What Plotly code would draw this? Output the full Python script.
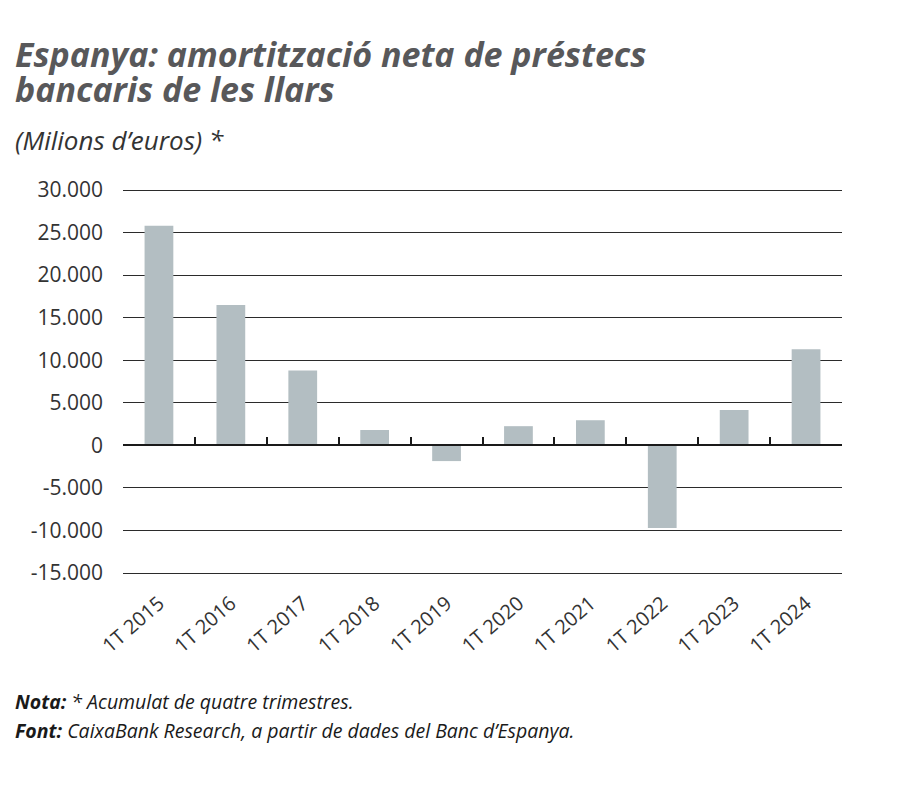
import plotly.graph_objects as go

categories = ["1T 2015", "1T 2016", "1T 2017", "1T 2018", "1T 2019",
              "1T 2020", "1T 2021", "1T 2022", "1T 2023", "1T 2024"]
values = [25800, 16500, 8800, 1800, -1850, 2250, 2950, -9700, 4150, 11300]
ytick_vals = [30000, 25000, 20000, 15000, 10000, 5000, 0, -5000, -10000, -15000]
ytick_text = ["30.000", "25.000", "20.000", "15.000", "10.000", "5.000", "0",
              "-5.000", "-10.000", "-15.000"]

OFF = 8  # page body margin
PAD_PX = 3
W, H = 900 - OFF, 789 - OFF
L, T = 123 - OFF, 190 - OFF - PAD_PX
R = 900 - 842
B = H - (573 - OFF) - PAD_PX
PW, PH = W - L - R, H - T - B
PAD = 45000 / (PH - 2 * PAD_PX) * PAD_PX
YMIN, YMAX = -15000 - PAD, 30000 + PAD

def px(x):
    return (x - OFF - L) / PW

def py(y):
    return (H - B - (y - OFF)) / PH

FONT = "Open Sans"
fig = go.Figure()
fig.add_trace(go.Bar(x=categories, y=values, marker_color="#b3bec2",
                     marker_line_width=0, width=0.4, xaxis="x", yaxis="y"))
fig.add_trace(go.Bar(x=categories, y=[None]*len(categories), xaxis="x2", yaxis="y",
                     showlegend=False, hoverinfo="skip"))

fig.update_layout(
    width=W, height=H,
    margin=dict(l=L, r=R, t=T, b=B, autoexpand=False),
    paper_bgcolor="white", plot_bgcolor="white",
    showlegend=False,
    font=dict(family=FONT, color="#333333"),
    xaxis=dict(type="category", showline=False, ticks="", showgrid=False,
               tickangle=-41, tickfont=dict(size=20, color="#333333"),
               ticklabelstandoff=11, zeroline=False, automargin=False),
    xaxis2=dict(type="category", overlaying="x", matches="x", anchor="free",
                position=(0 - YMIN) / (YMAX - YMIN), side="bottom",
                showline=True, linecolor="#1a1a1a", linewidth=2,
                ticks="inside", tickson="boundaries", ticklen=7, tickwidth=2,
                tickcolor="#1a1a1a", showticklabels=False, showgrid=False),
    yaxis=dict(range=[YMIN, YMAX], tickvals=ytick_vals, ticktext=ytick_text,
               showgrid=True, gridcolor="#2b2b2b", gridwidth=1,
               zeroline=False, showline=False, ticks="", automargin=False,
               tickfont=dict(size=21, color="#333333"),
               ticklabelstandoff=19),
)

def note(text, x, base_y, size, color):
    fig.add_annotation(text=text, xref="paper", yref="paper",
                       x=px(x), y=py(base_y + 0.32 * size),
                       xanchor="left", yanchor="bottom", showarrow=False,
                       font=dict(size=size, color=color, family=FONT))

note("<b><i>Espanya: amortització neta de préstecs</i></b>", 13, 68, 34, "#58585a")
note("<b><i>bancaris de les llars</i></b>", 13, 103, 34, "#58585a")
note("<i>(Milions d’euros) *</i>", 13, 152, 26, "#333333")
note("<b><i>Nota:</i></b><i> * Acumulat de quatre trimestres.</i>", 13, 711, 19.5, "#1a1a1a")
note("<b><i>Font:</i></b><i> CaixaBank Research, a partir de dades del Banc d’Espanya.</i>",
     13, 740, 19.5, "#1a1a1a")

fig.write_html("out.html")
